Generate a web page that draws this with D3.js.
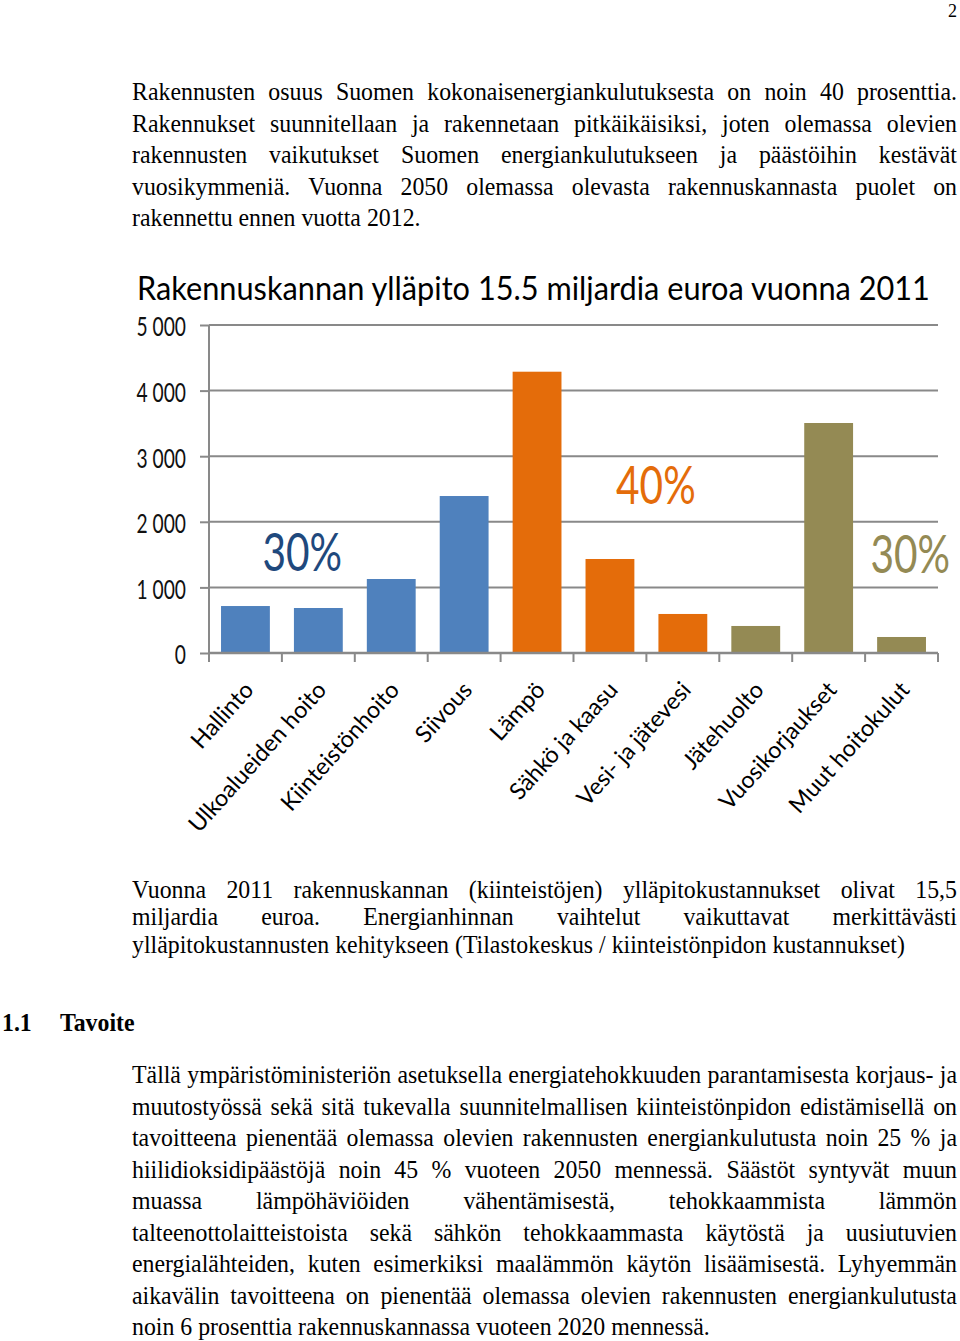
<!DOCTYPE html>
<html>
<head>
<meta charset="utf-8">
<script src="https://cdn.jsdelivr.net/npm/d3@7/dist/d3.min.js"></script>
<style>
  html, body { margin: 0; padding: 0; background: #ffffff; }
  svg { display: block; }
</style>
</head>
<body>
<svg id="page" width="960" height="1341"></svg>
<script>
// ---------------- DATA ----------------
const chartTitle = "Rakennuskannan ylläpito 15.5 miljardia euroa vuonna 2011";
const categories = ["Hallinto", "Ulkoalueiden hoito", "Kiinteistönhoito", "Siivous", "Lämpö",
  "Sähkö ja kaasu", "Vesi- ja jätevesi", "Jätehuolto", "Vuosikorjaukset", "Muut hoitokulut"];
const values = [716, 686, 1128, 2393, 4288, 1433, 595, 412, 3506, 244];
const groups = ["a", "a", "a", "a", "b", "b", "b", "c", "c", "c"];
const tickValues = [0, 1000, 2000, 3000, 4000, 5000];
const tickLabels = ["0", "1 000", "2 000", "3 000", "4 000", "5 000"];
const shareLabels = ["30%", "40%", "30%"];
const shareGroups = ["a", "b", "c"];
const sharePos = [1.28, 6.13, 9.62];     // position in category steps
const shareLevel = [1250, 2271, 1220];   // baseline in value units

const pageNumber = "2";
const para1 = [
  "Rakennusten osuus Suomen kokonaisenergiankulutuksesta on noin 40 prosenttia.",
  "Rakennukset suunnitellaan ja rakennetaan pitkäikäisiksi, joten olemassa olevien",
  "rakennusten vaikutukset Suomen energiankulutukseen ja päästöihin kestävät",
  "vuosikymmeniä. Vuonna 2050 olemassa olevasta rakennuskannasta puolet on",
  "rakennettu ennen vuotta 2012."
];
const para2 = [
  "Vuonna 2011 rakennuskannan (kiinteistöjen) ylläpitokustannukset olivat 15,5",
  "miljardia euroa. Energianhinnan vaihtelut vaikuttavat merkittävästi",
  "ylläpitokustannusten kehitykseen (Tilastokeskus / kiinteistönpidon kustannukset)"
];
const headingNum = "1.1";
const headingText = "Tavoite";
const para3 = [
  "Tällä ympäristöministeriön asetuksella energiatehokkuuden parantamisesta korjaus- ja",
  "muutostyössä sekä sitä tukevalla suunnitelmallisen kiinteistönpidon edistämisellä on",
  "tavoitteena pienentää olemassa olevien rakennusten energiankulutusta noin 25 % ja",
  "hiilidioksidipäästöjä noin 45 % vuoteen 2050 mennessä. Säästöt syntyvät muun",
  "muassa lämpöhäviöiden vähentämisestä, tehokkaammista lämmön",
  "talteenottolaitteistoista sekä sähkön tehokkaammasta käytöstä ja uusiutuvien",
  "energialähteiden, kuten esimerkiksi maalämmön käytön lisäämisestä. Lyhyemmän",
  "aikavälin tavoitteena on pienentää olemassa olevien rakennusten energiankulutusta",
  "noin 6 prosenttia rakennuskannassa vuoteen 2020 mennessä."
];

// ---------------- STYLE ----------------
const colors = { a: "#4F81BD", b: "#E46C0A", c: "#948A54" };
const shareColors = { a: "#1F497D", b: "#E46C0A", c: "#948A54" };
const gridColor = "#898989";
const serif = "'Liberation Serif', 'Times New Roman', serif";
const sans = "Lato, 'Open Sans', sans-serif";
const bodySize = 25.5, bodySX = 0.935;

const svg = d3.select("#page");

// ---------------- BODY TEXT ----------------
function paragraph(lines, left, right, firstBaseline, lineGap) {
  const g = svg.append("g");
  lines.forEach((line, i) => {
    const yb = firstBaseline + i * lineGap;
    const last = i === lines.length - 1;
    if (last) {
      g.append("text")
        .attr("transform", `translate(${left},${yb}) scale(${bodySX},1)`)
        .attr("font-family", serif).attr("font-size", bodySize)
        .attr("fill", "#000").text(line);
    } else {
      const words = line.split(" ");
      const nodes = words.map(w => g.append("text")
        .attr("font-family", serif).attr("font-size", bodySize)
        .attr("fill", "#000").text(w));
      const widths = nodes.map(n => n.node().getComputedTextLength() * bodySX);
      const total = d3.sum(widths);
      const gap = (right - left - total) / (words.length - 1);
      let cx = left;
      nodes.forEach((n, k) => {
        n.attr("transform", `translate(${cx},${yb}) scale(${bodySX},1)`);
        cx += widths[k] + gap;
      });
    }
  });
}

svg.append("text").attr("transform", "translate(957,17) scale(0.95,1)").attr("text-anchor", "end")
  .attr("font-family", serif).attr("font-size", 19).text(pageNumber);

paragraph(para1, 132, 957, 100, 31.6);
paragraph(para2, 132, 957, 897.5, 27.6);

svg.append("text").attr("transform", `translate(2,1031) scale(${bodySX},1)`)
  .attr("font-family", serif).attr("font-size", bodySize)
  .attr("font-weight", "bold").text(headingNum);
svg.append("text").attr("transform", `translate(60,1031) scale(${bodySX},1)`)
  .attr("font-family", serif).attr("font-size", bodySize)
  .attr("font-weight", "bold").text(headingText);

paragraph(para3, 132, 957, 1083, 31.55);

// ---------------- CHART ----------------
const x = d3.scaleBand().domain(categories).range([209, 938])
  .paddingInner(0.33).paddingOuter(0.165);
const y = d3.scaleLinear().domain([0, 5000]).range([653, 325]);
const step = x.step();

const chart = svg.append("g");

// title (scaled horizontally to the reference width)
const titleNode = chart.append("text")
  .attr("font-family", sans).attr("font-size", 32)
  .attr("fill", "#000").text(chartTitle);
const titleW = titleNode.node().getComputedTextLength();
titleNode.attr("transform", `translate(137,300) scale(${793 / titleW},1)`);

// gridlines
chart.append("g").selectAll("line").data(tickValues.filter(d => d > 0)).join("line")
  .attr("x1", 209).attr("x2", 938)
  .attr("y1", d => y(d)).attr("y2", d => y(d))
  .attr("stroke", gridColor).attr("stroke-width", 2);

// y axis
const tickSX = 0.74;
const yAxis = d3.axisLeft(y).tickValues(tickValues)
  .tickFormat((d, i) => tickLabels[i]).tickSize(9).tickSizeOuter(0).tickPadding(14);
const yg = chart.append("g").attr("transform", "translate(209,0)").call(yAxis);
yg.select(".domain").attr("stroke", gridColor).attr("stroke-width", 2)
  .attr("d", `M0,${y(5000)}V${y(0) + 9}`);
yg.selectAll(".tick line").attr("stroke", gridColor).attr("stroke-width", 2);
yg.selectAll(".tick text").attr("font-family", sans).attr("font-size", 26)
  .attr("fill", "#111").attr("dy", "0.42em")
  .each(function () {
    const t = d3.select(this);
    const xx = +t.attr("x");
    t.attr("transform", `scale(${tickSX},1)`).attr("x", xx / tickSX);
  });

// bars
chart.append("g").selectAll("rect").data(categories).join("rect")
  .attr("x", d => x(d)).attr("width", x.bandwidth())
  .attr("y", (d, i) => y(values[i])).attr("height", (d, i) => y(0) - y(values[i]))
  .attr("fill", (d, i) => colors[groups[i]]);

// x axis baseline and ticks
chart.append("line").attr("x1", 209).attr("x2", 938)
  .attr("y1", y(0)).attr("y2", y(0)).attr("stroke", gridColor).attr("stroke-width", 2.5);
const boundaries = d3.range(categories.length + 1).map(i => x.range()[0] + i * step);
chart.append("g").selectAll("line").data(boundaries).join("line")
  .attr("x1", d => d).attr("x2", d => d)
  .attr("y1", y(0)).attr("y2", y(0) + 9)
  .attr("stroke", gridColor).attr("stroke-width", 2);

// category labels
chart.append("g").selectAll("text").data(categories).join("text")
  .attr("transform", d => `translate(${x(d) + x.bandwidth() / 2 + 5},${y(0) + 34}) rotate(-48)`)
  .attr("text-anchor", "end").attr("dy", "0.25em")
  .attr("font-family", sans).attr("font-size", 23.3).attr("fill", "#000")
  .text(d => d);

// share labels
const shareSX = 0.78;
chart.append("g").selectAll("text").data(shareLabels).join("text")
  .attr("transform", (d, i) =>
    `translate(${x.range()[0] + sharePos[i] * step},${y(shareLevel[i])}) scale(${shareSX},1)`)
  .attr("text-anchor", "middle")
  .attr("font-family", sans).attr("font-size", 52)
  .attr("fill", (d, i) => shareColors[shareGroups[i]])
  .text(d => d);
</script>
</body>
</html>
